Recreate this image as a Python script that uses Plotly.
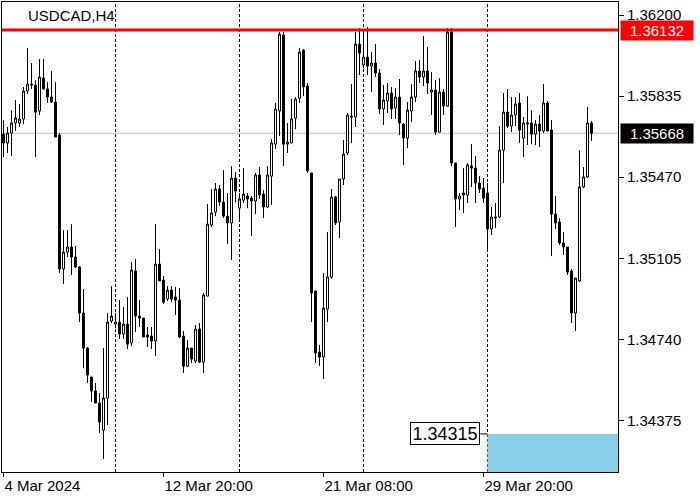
import plotly.graph_objects as go

TITLE = "USDCAD,H4"

OPEN = [1.35664, 1.35624, 1.35669, 1.35714, 1.35714, 1.35732, 1.35858, 1.35889, 1.35885, 1.35768,
        1.35916, 1.35867, 1.35831, 1.35808, 1.35660, 1.35057, 1.35133, 1.35156, 1.35111, 1.35066,
        1.34859, 1.34701, 1.34571, 1.34508, 1.34454, 1.34332, 1.34476, 1.34823, 1.34809, 1.34818,
        1.34764, 1.34809, 1.34724, 1.35048, 1.34845, 1.34836, 1.34760, 1.34755, 1.34733, 1.35079,
        1.35007, 1.34922, 1.34962, 1.34931, 1.34917, 1.34755, 1.34620, 1.34701, 1.34643, 1.34787,
        1.34638, 1.34935, 1.35255, 1.35313, 1.35417, 1.35358, 1.35295, 1.35264, 1.35466, 1.35331,
        1.35367, 1.35385, 1.35376, 1.35363, 1.35480, 1.35394, 1.35336, 1.35475, 1.35619, 1.35768,
        1.36110, 1.35619, 1.35624, 1.35736, 1.35826, 1.36042, 1.35880, 1.35489, 1.34958, 1.34683,
        1.34661, 1.34877, 1.35021, 1.35381, 1.35268, 1.35462, 1.35579, 1.35745, 1.35741, 1.36069,
        1.35975, 1.36011, 1.35970, 1.35984, 1.35939, 1.35777, 1.35813, 1.35849, 1.35781, 1.35831,
        1.35709, 1.35646, 1.35768, 1.35831, 1.35948, 1.35921, 1.35948, 1.35853, 1.35862, 1.35673,
        1.35853, 1.35790, 1.36123, 1.35534, 1.35372, 1.35390, 1.35390, 1.35520, 1.35511, 1.35444,
        1.35421, 1.35399, 1.35237, 1.35286, 1.35291, 1.35592, 1.35763, 1.35700, 1.35750, 1.35804,
        1.35646, 1.35709, 1.35714, 1.35664, 1.35709, 1.35678, 1.35804, 1.35682, 1.35304, 1.35268,
        1.35174, 1.35156, 1.35048, 1.34859, 1.35003, 1.35426, 1.35471, 1.35714]

HIGH = [1.35727, 1.35696, 1.35772, 1.35817, 1.35799, 1.35876, 1.36051, 1.35984, 1.35907, 1.36002,
        1.36002, 1.35898, 1.35948, 1.35898, 1.35669, 1.35232, 1.35232, 1.35259, 1.35160, 1.35070,
        1.34967, 1.34706, 1.34571, 1.34544, 1.34499, 1.34701, 1.34859, 1.34980, 1.34859, 1.34917,
        1.34886, 1.34931, 1.35088, 1.35102, 1.34917, 1.34836, 1.34796, 1.34796, 1.35259, 1.35147,
        1.35025, 1.34980, 1.34980, 1.34976, 1.34971, 1.34778, 1.34737, 1.34701, 1.34805, 1.34814,
        1.34949, 1.35349, 1.35417, 1.35444, 1.35435, 1.35502, 1.35399, 1.35520, 1.35493, 1.35399,
        1.35511, 1.35399, 1.35385, 1.35489, 1.35516, 1.35412, 1.35520, 1.35642, 1.35804, 1.36123,
        1.36123, 1.35714, 1.35822, 1.35831, 1.36051, 1.36047, 1.35894, 1.35489, 1.34958, 1.34715,
        1.35039, 1.35223, 1.35417, 1.35385, 1.35462, 1.35637, 1.35759, 1.35889, 1.36123, 1.36141,
        1.36132, 1.36146, 1.36033, 1.36069, 1.35957, 1.35885, 1.35894, 1.35876, 1.35871, 1.35912,
        1.35714, 1.35808, 1.35889, 1.35993, 1.35997, 1.36105, 1.36056, 1.35943, 1.35907, 1.35916,
        1.35867, 1.36141, 1.36141, 1.35534, 1.35399, 1.35511, 1.35534, 1.35619, 1.35565, 1.35475,
        1.35466, 1.35444, 1.35336, 1.35354, 1.35700, 1.35849, 1.35867, 1.35831, 1.35831, 1.35849,
        1.35741, 1.35835, 1.35772, 1.35727, 1.35750, 1.35889, 1.35813, 1.35727, 1.35385, 1.35286,
        1.35223, 1.35156, 1.35057, 1.35016, 1.35592, 1.35516, 1.35786, 1.35723]

LOW = [1.35561, 1.35579, 1.35565, 1.35678, 1.35696, 1.35709, 1.35844, 1.35867, 1.35561, 1.35750,
       1.35862, 1.35804, 1.35804, 1.35651, 1.35039, 1.34989, 1.35111, 1.35030, 1.35061, 1.34818,
       1.34611, 1.34544, 1.34458, 1.34454, 1.34319, 1.34202, 1.34355, 1.34814, 1.34791, 1.34742,
       1.34742, 1.34697, 1.34710, 1.34773, 1.34796, 1.34751, 1.34706, 1.34697, 1.34665, 1.35003,
       1.34899, 1.34913, 1.34908, 1.34850, 1.34746, 1.34589, 1.34616, 1.34634, 1.34634, 1.34634,
       1.34589, 1.34935, 1.35246, 1.35295, 1.35340, 1.35286, 1.35169, 1.35097, 1.35358, 1.35273,
       1.35354, 1.35331, 1.35205, 1.35304, 1.35372, 1.35286, 1.35331, 1.35345, 1.35597, 1.35655,
       1.35520, 1.35579, 1.35624, 1.35687, 1.35804, 1.35835, 1.35489, 1.34818, 1.34634, 1.34620,
       1.34562, 1.34818, 1.35012, 1.35255, 1.35196, 1.35435, 1.35570, 1.35624, 1.35696, 1.35930,
       1.35961, 1.35930, 1.35853, 1.35921, 1.35754, 1.35705, 1.35759, 1.35732, 1.35732, 1.35660,
       1.35525, 1.35601, 1.35718, 1.35808, 1.35894, 1.35880, 1.35844, 1.35750, 1.35660, 1.35673,
       1.35750, 1.35790, 1.35520, 1.35246, 1.35322, 1.35309, 1.35354, 1.35426, 1.35354, 1.35399,
       1.35354, 1.35142, 1.35210, 1.35241, 1.35286, 1.35444, 1.35691, 1.35673, 1.35700, 1.35624,
       1.35561, 1.35615, 1.35619, 1.35615, 1.35606, 1.35669, 1.35678, 1.35115, 1.35237, 1.35165,
       1.35120, 1.35030, 1.34814, 1.34778, 1.34998, 1.35421, 1.35466, 1.35633]

CLOSE = [1.35624, 1.35669, 1.35714, 1.35736, 1.35732, 1.35858, 1.35889, 1.35885, 1.35763, 1.35921,
         1.35867, 1.35831, 1.35808, 1.35651, 1.35057, 1.35133, 1.35156, 1.35111, 1.35066, 1.34859,
         1.34701, 1.34580, 1.34508, 1.34454, 1.34368, 1.34476, 1.34818, 1.34845, 1.34818, 1.34764,
         1.34809, 1.34719, 1.35052, 1.34845, 1.34836, 1.34751, 1.34751, 1.34733, 1.35079, 1.35003,
         1.34908, 1.34962, 1.34922, 1.34917, 1.34751, 1.34620, 1.34701, 1.34652, 1.34787, 1.34638,
         1.34940, 1.35259, 1.35309, 1.35417, 1.35358, 1.35295, 1.35264, 1.35466, 1.35408, 1.35372,
         1.35394, 1.35372, 1.35363, 1.35480, 1.35390, 1.35336, 1.35480, 1.35624, 1.35777, 1.36114,
         1.35619, 1.35628, 1.35732, 1.35822, 1.36033, 1.35876, 1.35498, 1.34949, 1.34679, 1.34661,
         1.34881, 1.35021, 1.35381, 1.35264, 1.35462, 1.35574, 1.35750, 1.35741, 1.36069, 1.36029,
         1.36011, 1.35970, 1.35984, 1.35939, 1.35777, 1.35817, 1.35849, 1.35777, 1.35831, 1.35714,
         1.35646, 1.35772, 1.35831, 1.35948, 1.35921, 1.35948, 1.35894, 1.35862, 1.35673, 1.35853,
         1.35790, 1.36123, 1.35534, 1.35372, 1.35385, 1.35399, 1.35525, 1.35511, 1.35444, 1.35417,
         1.35376, 1.35237, 1.35291, 1.35291, 1.35592, 1.35763, 1.35700, 1.35750, 1.35799, 1.35682,
         1.35714, 1.35714, 1.35664, 1.35709, 1.35678, 1.35804, 1.35678, 1.35304, 1.35264, 1.35174,
         1.35156, 1.35043, 1.34859, 1.35016, 1.35426, 1.35471, 1.35714, 1.35668]

X_TICK_BARS = [0, 40, 80, 120]
X_TICK_LABELS = ["4 Mar 2024", "12 Mar 20:00", "21 Mar 08:00", "29 Mar 20:00"]
Y_TICKS = [1.36200, 1.35835, 1.35470, 1.35105, 1.34740, 1.34375]
SEPARATOR_BARS = [28, 59, 90, 121]
RESISTANCE = 1.36132
LAST_PRICE = 1.35668
SUPPORT = 1.34315
SUPPORT_START_BAR = 121

X_RANGE = [-0.375, 153.625]
Y_RANGE = [1.341435, 1.362585]

FONT = "Liberation Sans"
bars = list(range(len(OPEN)))

fig = go.Figure(go.Candlestick(
    x=bars, open=OPEN, high=HIGH, low=LOW, close=CLOSE,
    increasing=dict(line=dict(color="black", width=1), fillcolor="white"),
    decreasing=dict(line=dict(color="black", width=1), fillcolor="black"),
    whiskerwidth=0, hoverinfo="skip", showlegend=False,
))

shapes = []
for b in SEPARATOR_BARS:
    shapes.append(dict(type="line", xref="x", yref="paper", x0=b, x1=b, y0=0, y1=1,
                       line=dict(color="black", width=1, dash="3px,2px"), layer="below"))
shapes.append(dict(type="line", xref="paper", yref="y", x0=0, x1=1, y0=LAST_PRICE, y1=LAST_PRICE,
                   line=dict(color="#c0c0c0", width=1), layer="below"))
shapes.append(dict(type="rect", xref="x", yref="y", x0=SUPPORT_START_BAR, x1=X_RANGE[1],
                   y0=Y_RANGE[0], y1=SUPPORT, fillcolor="#87CEEB", line=dict(width=0), layer="above"))
shapes.append(dict(type="line", xref="x", yref="y", x0=SUPPORT_START_BAR - 1.8, x1=SUPPORT_START_BAR,
                   y0=SUPPORT, y1=SUPPORT, line=dict(color="black", width=1)))
shapes.append(dict(type="line", xref="paper", yref="y", x0=0, x1=1, y0=RESISTANCE, y1=RESISTANCE,
                   line=dict(color="#ff0000", width=3), layer="above"))

annotations = [
    dict(text=TITLE, xref="paper", yref="paper", x=0.039, y=0.9723, xanchor="left", yanchor="middle",
         showarrow=False, font=dict(family=FONT, size=15, color="black")),
    dict(text=f"{RESISTANCE:.5f}", xref="paper", yref="y", x=1.00325, y=RESISTANCE, xanchor="left",
         yanchor="middle", showarrow=False, bgcolor="#ff0000", width=66, height=13, borderpad=3,
         align="center", font=dict(family=FONT, size=15, color="white")),
    dict(text=f"{LAST_PRICE:.5f}", xref="paper", yref="y", x=1.00325, y=LAST_PRICE, xanchor="left",
         yanchor="middle", showarrow=False, bgcolor="black", width=66, height=13, borderpad=3,
         align="center", font=dict(family=FONT, size=15, color="white")),
    dict(text=f"{SUPPORT:.5f}", xref="x", yref="y", x=SUPPORT_START_BAR - 1.8, y=SUPPORT, xanchor="right",
         yanchor="middle", showarrow=False, bgcolor="white", bordercolor="black", borderwidth=1,
         borderpad=2, width=64, height=17, align="center",
         font=dict(family=FONT, size=18, color="black")),
]

fig.update_layout(
    width=700, height=500,
    margin=dict(l=2, r=82, t=2, b=28),
    paper_bgcolor="white", plot_bgcolor="white",
    font=dict(family=FONT, size=15, color="black"),
    shapes=shapes, annotations=annotations,
    showlegend=False,
    boxgap=0.5, boxgroupgap=0,
    xaxis=dict(range=X_RANGE, rangeslider=dict(visible=False), showgrid=False, zeroline=False,
               showline=True, linecolor="black", linewidth=1, mirror=True,
               ticks="outside", ticklen=4, tickcolor="black",
               tickvals=X_TICK_BARS, ticktext=X_TICK_LABELS, ticklabelposition="outside right",
               tickfont=dict(family=FONT, size=15, color="black"), fixedrange=True),
    yaxis=dict(range=Y_RANGE, side="right", showgrid=False, zeroline=False,
               showline=True, linecolor="black", linewidth=1, mirror=True,
               ticks="outside", ticklen=5, tickcolor="black", ticklabelstandoff=0,
               tickvals=Y_TICKS, tickformat=".5f",
               tickfont=dict(family=FONT, size=15, color="black"), fixedrange=True),
)

fig.write_html("out.html", config={"displayModeBar": False},
               post_script="document.body.style.margin='0px';")
